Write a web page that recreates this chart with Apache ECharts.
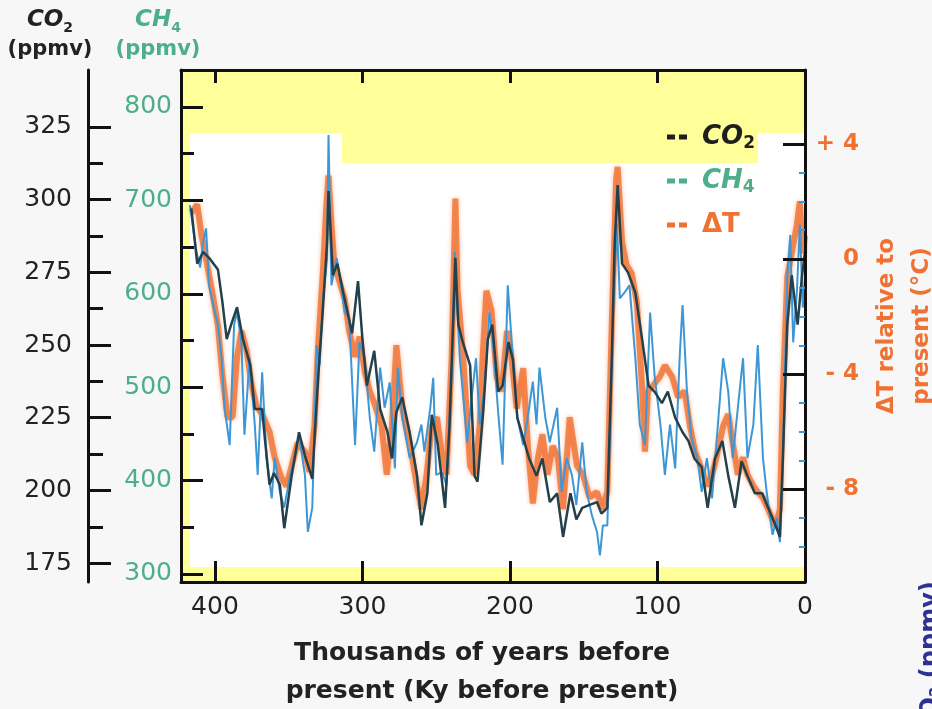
<!DOCTYPE html>
<html>
<head>
<meta charset="utf-8">
<script src="https://cdn.jsdelivr.net/npm/echarts@6/dist/echarts.min.js"></script>
<style>
html,body{margin:0;padding:0;background:#f7f7f7;overflow:hidden;}
#chart{width:932px;height:709px;}
</style>
</head>
<body>
<div id="chart"></div>
<script>
// ---- data (ky before present) ----
const co2Age = [0,2,5,9,12,15,17,20,25,29,34,39,43,47.5,52,56,61,66,70,75,79,83,88,93,97,102,106,111,115,120,124,127,129,131,134,138,141,146,151,155,159,164,168,173,178,182,187,191,195,198,201,205,208,212,215,218,222,224,227,232,235,237,241,244,249,253,256,260,263,268,273,277,280,283,288,292,297,300,303,307,310,313,317,320,323,324,327,330,332,334,339,343,348,353,356,360,363,366,368,373,376,381,385,389,392,395,398,404,408,412,416];
const co2Val = [282,274,257,274,257,211,184,188,194,199,199,205,210,194,205,217,211,194,208,211,217,220,225,234,230,234,236,254,268,275,278,305,285,245,194,192,196,195,194,190,199,184,199,196,211,205,211,218,225,245,251,236,234,257,252,228,203,205,243,251,257,280,222,194,216,226,199,188,205,220,232,227,211,220,228,248,236,252,272,254,261,268,278,274,303,285,261,239,222,204,212,220,205,187,202,206,202,217,228,228,243,252,263,257,252,265,276,280,282,278,297];

const ch4Age = [0,1.5,3.5,5.5,8,10,12,15,17,19,22,26,28.5,32,35,39,42,45.5,49,52,55.5,60,63,66.5,70,73,77,80,83,85,88,91.5,95,98,102,105,108.5,112,115,119,122,125.5,127.5,130,132,134,137,139,141,144.5,148,151,155,158,161.5,165,168,173,176,180,182,184.5,188,191,195,198,201.5,205,208,212,214,217,220.5,223,226,229,234,237.5,239.5,243,246,250,252,254,258,260,263,268,273,276,278,281.5,285,288,292,295,298.5,302,305,309,312,315.5,317.5,321,323,324,327,329,331,334,337,339,343,346,349,353,356,359.5,361.5,365,368,371,373,376.5,380,382,385,387,390,393.5,395.5,398,400,404,406,408,410,412.5,417];
const ch4Val = [620,585,674,602,548,663,620,424,334,360,342,388,424,545,460,424,531,478,424,495,531,441,381,424,388,424,446,495,588,531,413,460,406,460,513,580,438,460,531,609,602,595,674,585,460,352,352,320,345,363,388,441,374,406,424,388,478,441,467,521,460,506,467,438,467,531,609,417,473,559,580,502,460,531,488,441,531,645,513,395,409,406,510,478,431,460,441,424,467,521,413,505,478,521,431,467,531,548,438,574,580,620,638,609,770,638,588,524,545,371,345,406,449,424,406,371,388,424,381,424,516,406,460,531,449,548,580,567,438,478,531,567,580,609,670,655,628,645,695];

const dtAge = [0,1.5,3.5,5.5,9,12,15,17,20,25,28.5,32,35,39,42,45.5,49,52,55.5,60,63,66.5,70,74.5,78,81.5,86,90,95,98.5,103,106.5,108.5,110.5,114,117.5,121,124,127,128,131,134,137.5,141,146,150.5,154.5,159.5,164,167.5,171,174.5,178,181,184.5,188,191,195.5,199,202,205.5,209,212.5,216,218.5,220.5,224,227,232,235.5,237,239.5,243,246,249.5,253,256.5,260,263,268,273,277,280,283.5,287,292,295,298.5,302,305,309,312,315.5,319,321,323,324.5,327,330.5,332.5,336,339,344,348,351.5,355,359.5,363,368,372,375,378.5,382,385,388,391.5,395,398,402,406,409,412,416];
const dtVal = [0.8,0.2,2.0,1.2,0.2,-0.6,-4.6,-8.7,-9.3,-8.7,-8.3,-8.1,-7.9,-7.5,-6.9,-7.5,-6.4,-5.4,-5.8,-6.9,-7.5,-7.9,-7.3,-6.7,-5.8,-4.6,-4.8,-4.1,-3.7,-4.1,-4.4,-4.6,-6.7,-4.4,-1.5,-0.5,-0.2,0.6,3.2,2.8,-2.3,-8.1,-8.7,-8.1,-8.3,-7.5,-7.2,-5.5,-8.7,-6.9,-6.5,-7.5,-6.1,-6.9,-8.5,-6.4,-3.8,-5.2,-3.4,-2.5,-4.6,-4.1,-1.8,-1.1,-3.4,-5.8,-7.5,-7.2,-3.2,-1.1,2.1,-3.4,-7.5,-6.9,-5.5,-5.8,-7.5,-8.7,-7.9,-6.4,-5.2,-3.0,-5.8,-7.5,-5.8,-5.0,-4.6,-3.9,-2.7,-3.4,-2.5,-1.4,-0.8,-0.2,1.2,2.9,1.8,-0.6,-3.4,-5.8,-7.4,-6.7,-6.4,-7.2,-7.9,-7.6,-6.9,-6.0,-5.4,-5.1,-4.4,-3.2,-2.5,-3.4,-5.5,-5.5,-4.0,-2.3,-1.1,0.0,0.8,1.9,1.6];

// ---- tick labels ----
const ageTicks = [0,100,200,300,400];
const ageTopTicks = [100,200,300,400];
const co2Ticks = [175,200,225,250,275,300,325];
const co2Minor = [187.5,212.5,237.5,262.5,287.5,312.5];
const ch4Ticks = [300,400,500,600,700,800];
const ch4Minor = [350,450,550,650,750];
const dtTicks = [-8,-4,0,4];
const dtMinor = [-10,-9,-7,-6,-5,-3,-2,-1,1,2,3];

const FONT = '"DejaVu Sans", "Noto Sans", sans-serif';
const BLACK = '#111111';
const TXT = '#222222';
const GREEN = '#4fae8a';
const ORANGE = '#f07233';
const BLUE = '#3d97d6';
const DARK = '#24404a';

const zip = (a, b) => a.map((v, i) => [v, b[i]]);

const chart = echarts.init(document.getElementById('chart'), null, {renderer: 'canvas'});

const frameLine = {show: true, onZero: false, lineStyle: {color: BLACK, width: 3}};
const noLine = {show: false, onZero: false};

const option = {
  backgroundColor: '#f7f7f7',
  animation: false,
  grid: {left: 181, right: 127, top: 70, bottom: 127, show: true, backgroundColor: '#ffff99', borderWidth: 0,
    containLabel: false, outerBoundsMode: 'none'},
  graphic: [
    {type: 'rect', z: 1, silent: true, shape: {x: 190, y: 133, width: 152, height: 434}, style: {fill: '#ffffff'}},
    {type: 'rect', z: 1, silent: true, shape: {x: 342, y: 163, width: 417, height: 404}, style: {fill: '#ffffff'}},
    {type: 'rect', z: 1, silent: true, shape: {x: 758, y: 133, width: 47, height: 434}, style: {fill: '#ffffff'}},
    {type: 'text', z: 1, silent: true, x: 917, y: 735, rotation: Math.PI / 2,
      style: {text: '{a|CO}{b|2}{a| (ppmv)}', align: 'left', verticalAlign: 'top',
        rich: {
          a: {fontSize: 24, fontWeight: 'bold', fill: '#2e3192', fontFamily: FONT, lineHeight: 28},
          b: {fontSize: 15, fontWeight: 'bold', fill: '#2e3192', fontFamily: FONT, lineHeight: 15, verticalAlign: 'bottom'}
        }}}
  ],
  legend: {
    orient: 'vertical', left: 662, top: 119, itemGap: 16, itemWidth: 20, itemHeight: 6,
    selectedMode: false,
    icon: 'path://M0,0H8V5H0Z M12,0H20V5H12Z',
    data: [
      {name: 'CO2', itemStyle: {color: '#1e1e1e'}},
      {name: 'CH4', itemStyle: {color: GREEN}},
      {name: 'ΔT', itemStyle: {color: ORANGE}}
    ],
    formatter: n => n === 'CO2' ? '{sp|}{k|CO}{ks|2}' : (n === 'CH4' ? '{sp|}{g|CH}{gs|4}' : '{sp|}{o|ΔT}'),
    textStyle: {
      rich: {
        sp: {width: 10},
        k: {color: '#1e1e1e', fontSize: 26, fontWeight: 'bold', fontStyle: 'italic', fontFamily: FONT, lineHeight: 30},
        ks: {color: '#1e1e1e', fontSize: 17, fontWeight: 'bold', fontFamily: FONT, lineHeight: 17, verticalAlign: 'bottom'},
        g: {color: GREEN, fontSize: 26, fontWeight: 'bold', fontStyle: 'italic', fontFamily: FONT, lineHeight: 30},
        gs: {color: GREEN, fontSize: 17, fontWeight: 'bold', fontFamily: FONT, lineHeight: 17, verticalAlign: 'bottom'},
        o: {color: ORANGE, fontSize: 26, fontWeight: 'bold', fontFamily: FONT, lineHeight: 30}
      }
    }
  },
  xAxis: [
    {
      type: 'value', position: 'bottom', min: 0, max: 423, inverse: true, z: 5,
      axisLine: frameLine,
      axisTick: {show: true, inside: true, length: 21, lineStyle: {color: BLACK, width: 3}, customValues: ageTicks},
      axisLabel: {show: true, customValues: ageTicks, margin: 13, fontSize: 25, color: TXT, fontFamily: FONT},
      splitLine: {show: false},
      name: 'Thousands of years before\npresent (Ky before present)',
      nameLocation: 'middle', nameGap: 52,
      nameTextStyle: {fontSize: 25, fontWeight: 'bold', color: TXT, fontFamily: FONT, lineHeight: 38, padding: [0, 22, 0, 0]}
    },
    {
      type: 'value', position: 'top', min: 0, max: 423, inverse: true, z: 5,
      axisLine: frameLine,
      axisTick: {show: true, inside: true, length: 13, lineStyle: {color: BLACK, width: 3}, customValues: ageTopTicks},
      axisLabel: {show: false},
      splitLine: {show: false}
    }
  ],
  yAxis: [
    { // CH4 major (left frame)
      type: 'value', position: 'left', min: 291.4, max: 839.6, z: 5,
      axisLine: frameLine,
      axisTick: {show: true, inside: true, length: 22, lineStyle: {color: BLACK, width: 3}, customValues: ch4Ticks},
      axisLabel: {show: true, customValues: ch4Ticks, margin: 9, fontSize: 25, color: GREEN, fontFamily: FONT},
      splitLine: {show: false},
      name: '{t|CH}{s|4}\n{p|(ppmv)}', nameLocation: 'end', nameGap: 5,
      nameTextStyle: {align: 'center', padding: [0, 46, 0, 0], rich: {
        t: {fontSize: 23, fontWeight: 'bold', fontStyle: 'italic', color: GREEN, fontFamily: FONT, lineHeight: 30},
        s: {fontSize: 14, fontWeight: 'bold', color: GREEN, fontFamily: FONT, lineHeight: 14, verticalAlign: 'bottom'},
        p: {fontSize: 21, fontWeight: 'bold', color: GREEN, fontFamily: FONT, lineHeight: 30}
      }}
    },
    { // CH4 minor ticks
      type: 'value', position: 'left', min: 291.4, max: 839.6, z: 5,
      axisLine: noLine,
      axisTick: {show: true, inside: true, length: 13, lineStyle: {color: BLACK, width: 3}, customValues: ch4Minor},
      axisLabel: {show: false}, splitLine: {show: false}
    },
    { // CO2 major (outer left axis)
      type: 'value', position: 'left', offset: 93, min: 168.5, max: 344.6, z: 5,
      axisLine: frameLine,
      axisTick: {show: true, inside: true, length: 23, lineStyle: {color: BLACK, width: 3}, customValues: co2Ticks},
      axisLabel: {show: true, customValues: co2Ticks, margin: 16, fontSize: 25, color: TXT, fontFamily: FONT},
      splitLine: {show: false},
      name: '{t|CO}{s|2}\n{p|(ppmv)}', nameLocation: 'end', nameGap: 5,
      nameTextStyle: {align: 'center', padding: [0, 76, 0, 0], rich: {
        t: {fontSize: 23, fontWeight: 'bold', fontStyle: 'italic', color: TXT, fontFamily: FONT, lineHeight: 30},
        s: {fontSize: 14, fontWeight: 'bold', color: TXT, fontFamily: FONT, lineHeight: 14, verticalAlign: 'bottom'},
        p: {fontSize: 21, fontWeight: 'bold', color: TXT, fontFamily: FONT, lineHeight: 30}
      }}
    },
    { // CO2 minor ticks
      type: 'value', position: 'left', offset: 93, min: 168.5, max: 344.6, z: 5,
      axisLine: noLine,
      axisTick: {show: true, inside: true, length: 15, lineStyle: {color: BLACK, width: 3}, customValues: co2Minor},
      axisLabel: {show: false}, splitLine: {show: false}
    },
    { // Delta T (right frame)
      type: 'value', position: 'right', min: -11.23, max: 6.57, z: 5,
      axisLine: frameLine,
      axisTick: {show: true, inside: true, length: 22, lineStyle: {color: BLACK, width: 3}, customValues: dtTicks},
      axisLabel: {show: true, customValues: dtTicks, margin: 54, align: 'right', fontSize: 23, fontWeight: 'bold', color: ORANGE, fontFamily: FONT,
        formatter: v => v > 0 ? '+ ' + v : (v < 0 ? '- ' + (-v) : '0')},
      splitLine: {show: false},
      name: 'ΔT relative to\npresent (°C)', nameLocation: 'middle', nameRotate: 90, nameGap: 62,
      nameTextStyle: {fontSize: 23, fontWeight: 'bold', color: ORANGE, fontFamily: FONT, lineHeight: 35}
    },
    { // Delta T minor ticks
      type: 'value', position: 'right', min: -11.23, max: 6.57, z: 5,
      axisLine: noLine,
      axisTick: {show: true, inside: true, length: 6, lineStyle: {color: BLUE, width: 2}, customValues: dtMinor},
      axisLabel: {show: false}, splitLine: {show: false}
    }
  ],
  series: [
    {name: 'ΔT', type: 'line', xAxisIndex: 0, yAxisIndex: 4, data: zip(dtAge, dtVal), showSymbol: false, symbol: 'none',
      color: ORANGE, lineStyle: {color: ORANGE, width: 6, opacity: 0.8, shadowBlur: 4, shadowColor: 'rgba(240,114,51,0.6)'}, z: 2},
    {name: 'CH4', type: 'line', xAxisIndex: 0, yAxisIndex: 0, data: zip(ch4Age, ch4Val), showSymbol: false, symbol: 'none',
      color: BLUE, lineStyle: {color: BLUE, width: 2}, z: 3},
    {name: 'CO2', type: 'line', xAxisIndex: 0, yAxisIndex: 2, data: zip(co2Age, co2Val), showSymbol: false, symbol: 'none',
      color: DARK, lineStyle: {color: DARK, width: 2.5}, z: 4}
  ]
};
chart.setOption(option);
</script>
</body>
</html>
